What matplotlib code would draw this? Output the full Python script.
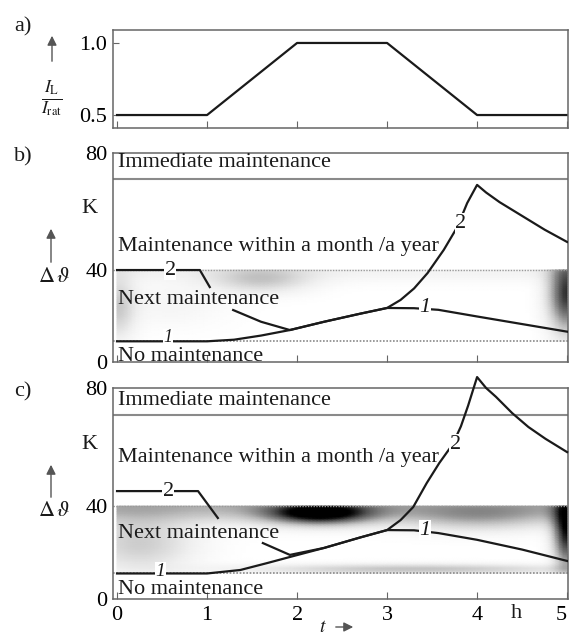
import numpy as np
import matplotlib.pyplot as plt
from matplotlib.patches import FancyArrowPatch

plt.rcParams['font.family'] = ['Liberation Serif', 'DejaVu Serif']
plt.rcParams['mathtext.fontset'] = 'stix'
plt.rcParams['font.size'] = 16

# a) load current I_L / I_rat over time t (h)
t_load = [0, 1, 2, 3, 4, 5]
load = [0.5, 0.5, 1.0, 1.0, 0.5, 0.5]

# zone limits in K
zone_top = 80
zone_immediate = 71
zone_next = 40
zone_none_b = 9
zone_none_c = 11

# b) temperature rise, curve 1 and curve 2 (curve 2 broken by the text)
b_t1 = [0, 1.0, 1.3, 1.6, 1.92, 2.3, 2.7, 3.0, 3.3, 3.57, 4.0, 4.5, 5.0]
b_v1 = [9, 9, 9.7, 11.5, 13.9, 17.5, 21, 23.5, 23.4, 22.7, 19.8, 16.5, 13.2]
b_t2_head = [0, 0.92, 1.03]
b_v2_head = [40, 40, 32.6]
b_t2_tail = [1.29, 1.6, 1.92, 2.3, 2.7, 3.0, 3.15, 3.3, 3.45, 3.63, 3.78, 3.89, 4.0,
             4.1, 4.25, 4.5, 4.75, 5.0]
b_v2_tail = [22.6, 17.5, 13.9, 17.5, 21, 23.5, 27, 32, 38.7, 46.9, 54.7, 62.9, 69.1,
             66.5, 63.2, 58.5, 53.8, 49.6]

# c) temperature rise, curve 1 and curve 2
c_t1 = [0, 1.0, 1.37, 1.67, 1.92, 2.3, 2.7, 3.0, 3.3, 3.57, 4.0, 4.5, 5.0]
c_v1 = [11, 11, 12.5, 15.5, 18.1, 22, 26.5, 29.7, 29.6, 28.4, 25.5, 21.3, 16.4]
c_t2_head = [0, 0.9, 1.12]
c_v2_head = [45.1, 45.1, 34.9]
c_t2_tail = [1.62, 1.92, 2.3, 2.7, 3.0, 3.15, 3.29, 3.44, 3.58, 3.73, 3.82, 3.9, 4.0,
             4.1, 4.21, 4.39, 4.57, 4.76, 5.0]
c_v2_tail = [24.1, 19, 22, 26.5, 29.7, 34, 39.6, 47.8, 54.6, 61, 67, 74, 83.7,
             80, 77, 71.5, 66.8, 62.8, 58.3]

zone_names = ['Immediate maintenance', 'Maintenance within a month /a year',
              'Next maintenance', 'No maintenance']

W, H = 571, 635
fig = plt.figure(figsize=(W / 100, H / 100), dpi=100)


def box(left, top, right, bottom):
    return [left / W, 1 - bottom / H, (right - left) / W, (bottom - top) / H]


def fwd(v):
    v = np.asarray(v, dtype=float)
    return np.where(v < 40, v * 0.44 / 40, 0.44 + (v - 40) * 0.56 / 40)


def inv(p):
    p = np.asarray(p, dtype=float)
    return np.where(p < 0.44, p * 40 / 0.44, 40 + (p - 0.44) * 40 / 0.56)


ink = '#1a1a1a'
frame = '#666666'

ax_a = fig.add_axes(box(113, 30, 568, 128))
ax_b = fig.add_axes(box(113, 153, 568, 362))
ax_c = fig.add_axes(box(113, 388, 568, 599))

for ax in (ax_a, ax_b, ax_c):
    ax.set_xlim(-0.045, 5.01)
    for s in ax.spines.values():
        s.set_color(frame)
        s.set_linewidth(1.1)
    ax.set_xticks([0, 1, 2, 3, 4, 5])
    ax.tick_params(axis='x', direction='in', length=5, color=frame, pad=5)
    ax.tick_params(axis='y', direction='in', length=4, color=frame, pad=4)

# panel a
ax_a.plot(t_load, load, color=ink, lw=1.6)
ax_a.set_ylim(0.41, 1.09)
ax_a.set_yticks([0.5, 1.0])
ax_a.set_yticklabels(['0.5', '1.0'])
ax_a.tick_params(axis='x', labelbottom=False)


def shade(ax, lower, blobs, base, base_width):
    tt = np.linspace(0, 5, 120)
    vv = np.linspace(lower, 40, 40)
    T, V = np.meshgrid(tt, vv)
    I = base * np.exp(-((V - 40) / base_width) ** 2)
    for (tc, vc, st, sv, amp) in blobs:
        I = I + amp * np.exp(-((T - tc) / st) ** 2 - ((V - vc) / sv) ** 2)
    ax.pcolormesh(T, V, np.clip(I, 0, 1), cmap='Greys', vmin=0, vmax=1,
                  shading='gouraud', zorder=0, rasterized=True)


def band_panel(ax, lower, blobs, base, base_width, texts_y):
    ax.set_yscale('function', functions=(fwd, inv))
    ax.set_ylim(0, zone_top)
    ax.set_yticks([0, 40, 80])
    ax.set_yticklabels(['0', '40', '80'])
    ax.tick_params(axis='y', length=0)
    shade(ax, lower, blobs, base, base_width)
    ax.axhline(zone_immediate, color='#8a8a8a', lw=1.5, zorder=1)
    ax.axhline(zone_next, color='#9a9a9a', lw=1.0, ls=(0, (1, 1)), zorder=1)
    ax.axhline(lower, color='#8a8a8a', lw=1.2, ls=(0, (1, 1)), zorder=1)
    for name, y in zip(zone_names, texts_y):
        ax.text(0.01, y, name, ha='left', va='center', color=ink, zorder=6)
    ax.text(-0.033, 61, 'K', transform=ax.get_yaxis_transform(),
            ha='right', va='center', color=ink)


def curve_label(ax, t, v, s, italic=False, size=16):
    ax.text(t, v, s, ha='center', va='center', color=ink, zorder=5,
            fontstyle='italic' if italic else 'normal', fontsize=size,
            bbox=dict(fc='white', ec='none', pad=0.3))


# panel b
band_panel(ax_b, zone_none_b,
           [(1.6, 36, 0.55, 6, 0.3), (0.0, 24, 0.2, 14, 0.3),
            (0.6, 25, 0.6, 10, 0.08), (5.0, 30, 0.2, 16, 0.85)],
           0.1, 5, [76.6, 47.9, 27, 2.6])
ax_b.plot(b_t1, b_v1, color=ink, lw=1.6, zorder=4)
ax_b.plot(b_t2_head, b_v2_head, color=ink, lw=1.6, zorder=4)
ax_b.plot(b_t2_tail, b_v2_tail, color=ink, lw=1.6, zorder=4)
curve_label(ax_b, 0.59, 40, '2')
curve_label(ax_b, 0.57, 10.6, '1', italic=True, size=13)
curve_label(ax_b, 3.42, 23.5, '1', italic=True)
curve_label(ax_b, 3.82, 56, '2')
ax_b.tick_params(axis='x', labelbottom=False)

# panel c
band_panel(ax_c, zone_none_c,
           [(2.25, 37, 0.55, 4.5, 0.95), (0.25, 24, 0.6, 12, 0.3),
            (5.0, 30, 0.15, 16, 0.95), (3.3, 13, 1.8, 2.2, 0.35),
            (4.0, 35, 0.8, 6, 0.25)],
           0.4, 7, [75.9, 56.6, 28.4, 4.0])
ax_c.plot(c_t1, c_v1, color=ink, lw=1.6, zorder=4)
ax_c.plot(c_t2_head, c_v2_head, color=ink, lw=1.6, zorder=4)
ax_c.plot(c_t2_tail, c_v2_tail, color=ink, lw=1.6, zorder=4, clip_on=False)
curve_label(ax_c, 0.57, 45.1, '2')
curve_label(ax_c, 0.48, 12.0, '1', italic=True, size=14)
curve_label(ax_c, 3.42, 29.7, '1', italic=True)
curve_label(ax_c, 3.76, 61, '2')
ax_c.set_xticklabels(['0', '1', '2', '3', '4', '5'])
ax_c.get_xticklabels()[-1].set_horizontalalignment('right')
ax_c.text(4.44, -0.071, 'h', transform=ax_c.get_xaxis_transform(),
          ha='center', va='center', color=ink)

# panel letters and axis quantities
for s, y in [('a)', 27), ('b)', 157), ('c)', 392)]:
    fig.text(14 / W, 1 - y / H, s, ha='left', va='center', color=ink)

fig.text(52 / W, 1 - 99 / H, r'$\frac{I_\mathrm{L}}{I_\mathrm{rat}}$',
         ha='center', va='center', color=ink, fontsize=18)
fig.text(54 / W, 1 - 277 / H, r'$\Delta\,\vartheta$', ha='center', va='center',
         color=ink)
fig.text(54 / W, 1 - 512 / H, r'$\Delta\,\vartheta$', ha='center', va='center',
         color=ink)
fig.text(323 / W, 1 - 627 / H, r'$t$', ha='center', va='center', color=ink,
         fontsize=14)

for x0, y0, y1 in [(52, 64, 33), (51, 265, 226), (51, 500, 462)]:
    fig.add_artist(FancyArrowPatch((x0 / W, 1 - y0 / H), (x0 / W, 1 - y1 / H),
                                   transform=fig.transFigure, arrowstyle='-|>',
                                   mutation_scale=14, lw=1.0, color='#555555'))
fig.add_artist(FancyArrowPatch((333 / W, 1 - 627 / H), (356 / W, 1 - 627 / H),
                               transform=fig.transFigure, arrowstyle='-|>',
                               mutation_scale=14, lw=1.0, color='#555555'))

fig.savefig('out.png', dpi=100)
